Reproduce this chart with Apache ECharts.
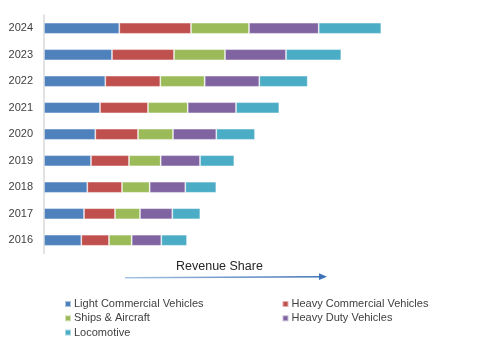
<!DOCTYPE html>
<html><head><meta charset="utf-8">
<script src="https://cdn.jsdelivr.net/npm/echarts@6/dist/echarts.min.js"></script>
<style>html,body{margin:0;padding:0;background:#fff}#c{width:480px;height:342px}</style>
</head><body><div id="c"></div>
<script>
var years = ['2016','2017','2018','2019','2020','2021','2022','2023','2024'];
var lightCommercial = [37.3, 40, 43.3, 47, 51.3, 56, 61.3, 68, 75.3];
var heavyCommercial = [27.7, 31, 34.7, 38, 42.7, 48, 55, 62, 71.7];
var shipsAircraft   = [22.7, 25, 27.7, 31.7, 35, 39.7, 44.4, 51, 58];
var heavyDuty       = [29.6, 32.3, 35.6, 39.3, 43.3, 48.3, 54.6, 61, 69.7];
var locomotive      = [25.7, 28, 31, 34.3, 38.7, 43.3, 48.4, 55.3, 62.6];
var seriesNames = ['Light Commercial Vehicles','Heavy Commercial Vehicles','Ships & Aircraft','Heavy Duty Vehicles','Locomotive'];
var colors = ['#4F81BD','#C0504D','#9BBB59','#8064A2','#4BACC6'];
var values = [lightCommercial, heavyCommercial, shipsAircraft, heavyDuty, locomotive];

var chart = echarts.init(document.getElementById('c'), null, {renderer:'canvas'});
var font = 'Liberation Sans, Arial, sans-serif';
var series = seriesNames.map(function(n,i){
  return {
    name:n, type:'bar', stack:'total', data:values[i], barWidth:'42%',
    itemStyle:{color:colors[i], borderColor:'rgba(255,255,255,0.55)', borderWidth:0.8},
    emphasis:{disabled:true}
  };
});
var legendCommon = {
  orient:'vertical', itemWidth:6, itemHeight:6, itemGap:2.3, icon:'rect', padding:0,
  height:60,
  textStyle:{fontFamily:font, fontSize:11, color:'#404040', lineHeight:12, padding:[0,0,0,-2]},
  selectedMode:false
};
chart.setOption({
  animation:false,
  color:colors,
  grid:{left:44, top:15, width:400, height:238.5, containLabel:false},
  xAxis:{type:'value', min:0, max:400, show:false},
  yAxis:{type:'category', data:years,
    axisLine:{show:true, lineStyle:{color:'#d9d9d9', width:1.5}},
    axisTick:{show:false},
    axisLabel:{fontFamily:font, fontSize:11, color:'#404040', margin:11}
  },
  legend:[
    Object.assign({left:64, top:298, data:[seriesNames[0], seriesNames[2], seriesNames[4]]}, legendCommon),
    Object.assign({left:281.5, top:298, data:[seriesNames[1], seriesNames[3]]}, legendCommon)
  ],
  graphic:[
    {type:'text', left:176, top:260.5, style:{text:'Revenue Share', font:'12.5px '+font, fill:'#262626'}},
    {type:'line', shape:{x1:125, y1:277.8, x2:321, y2:276.8},
      style:{lineWidth:1.4, stroke:new echarts.graphic.LinearGradient(0,0,1,0,[{offset:0,color:'#a9c4e4'},{offset:1,color:'#3d72b8'}])}},
    {type:'polygon', shape:{points:[[319,273.3],[327,276.7],[319,280.1]]}, style:{fill:'#3d72b8'}}
  ],
  series:series
});
</script></body></html>
